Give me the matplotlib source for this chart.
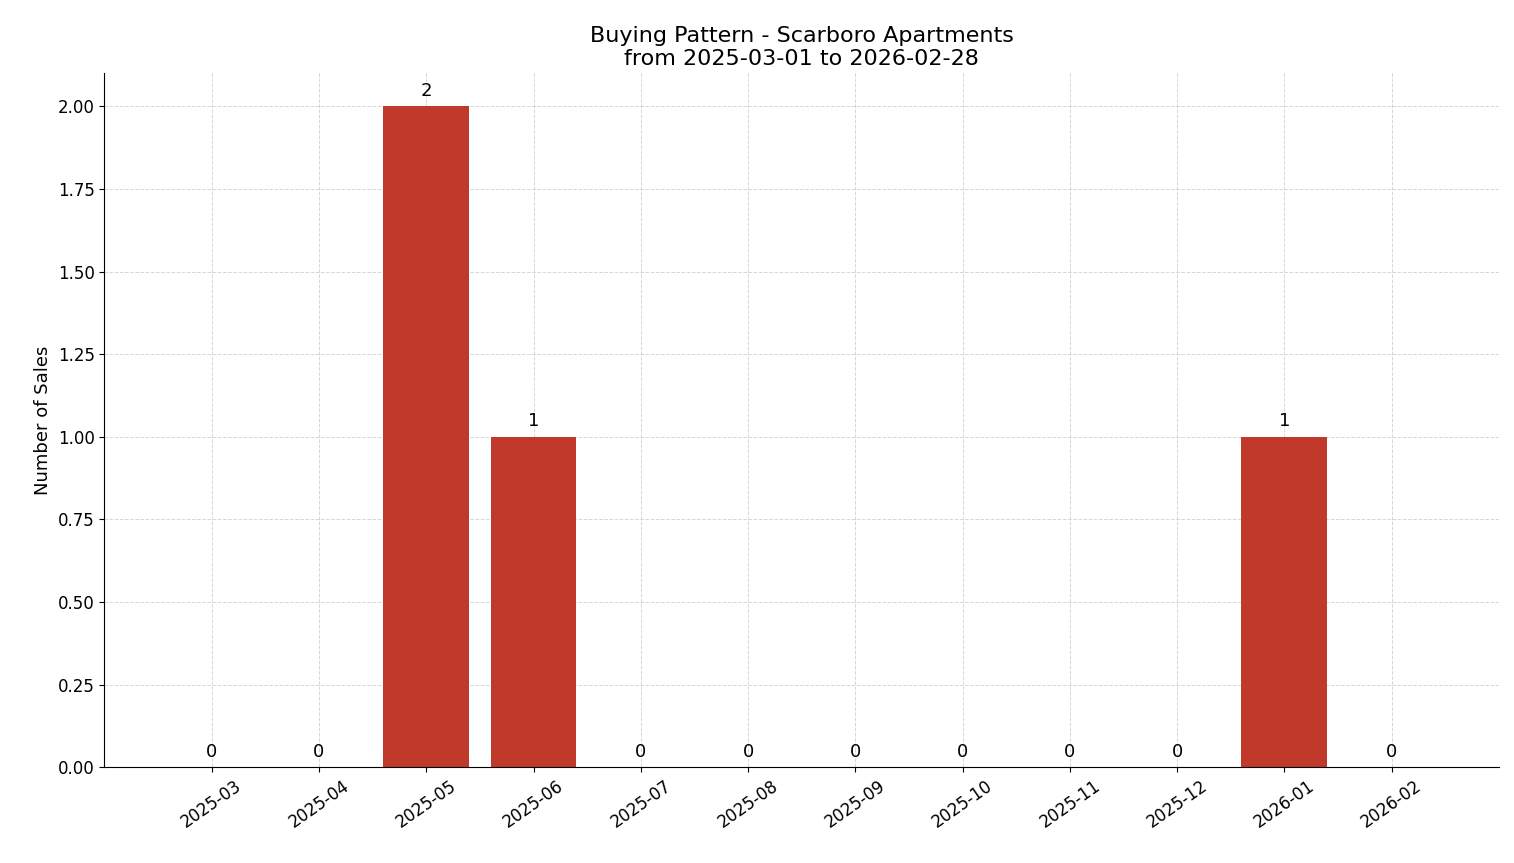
import matplotlib.pyplot as plt
import numpy as np

months = ["2025-03", "2025-04", "2025-05", "2025-06", "2025-07", "2025-08",
          "2025-09", "2025-10", "2025-11", "2025-12", "2026-01", "2026-02"]
sales = [0, 0, 2, 1, 0, 0, 0, 0, 0, 0, 1, 0]

fig, ax = plt.subplots(figsize=(15.14, 8.63), dpi=100)
x = np.arange(len(months))
bars = ax.bar(x, sales, width=0.8, color="#C0392B", zorder=2)
for xi, v in zip(x, sales):
    ax.text(xi, v + 0.02, str(v), ha="center", va="bottom", fontsize=13)

ax.set_xticks(x)
ax.set_xticklabels(months, rotation=35, fontsize=12)
ax.tick_params(axis="y", labelsize=12)
ax.set_xlim(-1, 12)
ax.set_ylim(0, 2.1)
ax.yaxis.set_major_formatter(plt.FuncFormatter(lambda v, _: f"{v:.2f}"))
ax.set_yticks(np.arange(0, 2.01, 0.25))
ax.set_ylabel("Number of Sales", fontsize=13)
ax.set_title("Buying Pattern - Scarboro Apartments\nfrom 2025-03-01 to 2026-02-28", fontsize=16)
ax.grid(True, linestyle="--", color="#cccccc", alpha=0.8, linewidth=0.7, zorder=0)
ax.spines["top"].set_visible(False)
ax.spines["right"].set_visible(False)

plt.subplots_adjust(left=0.069, right=0.99, top=0.915, bottom=0.111)
plt.savefig("out.png", dpi=100)
